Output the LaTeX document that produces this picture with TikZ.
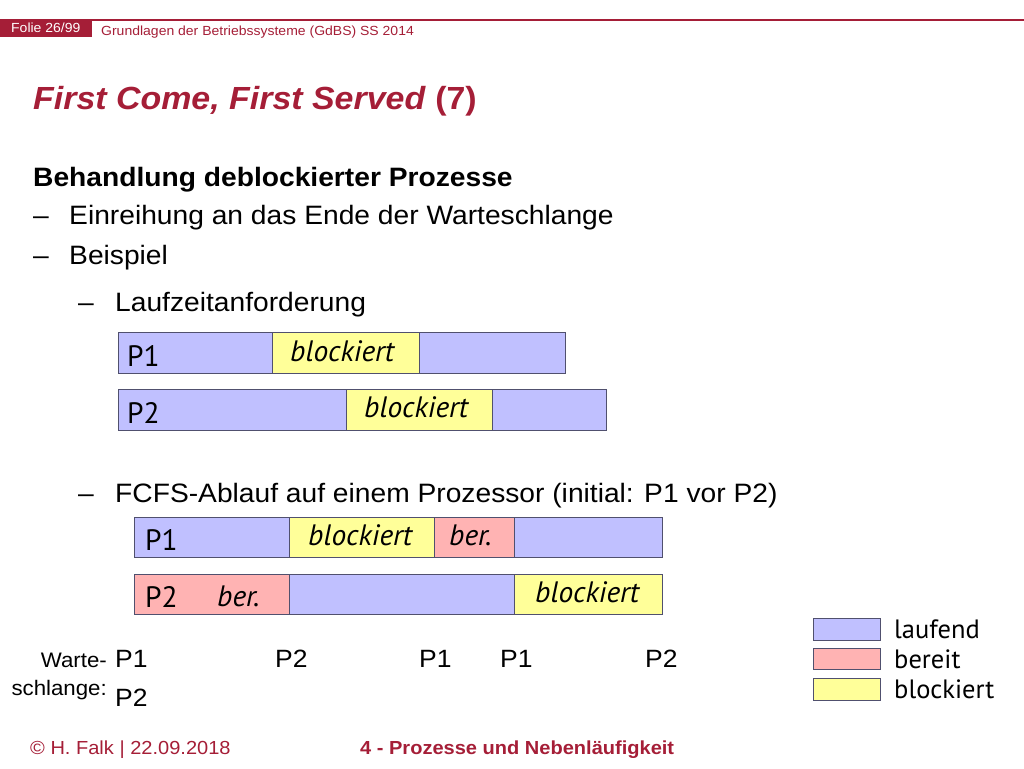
\documentclass[tikz,border=0pt]{standalone}
\usepackage{fontspec}
\setmainfont{Liberation Sans}[FakeStretch=1.06]
\newfontfamily\barfont{PT Sans}
\definecolor{folienrot}{RGB}{165,30,55}
\definecolor{laufblau}{RGB}{192,192,255}
\definecolor{bereitrot}{RGB}{255,179,179}
\definecolor{blockgelb}{RGB}{255,255,153}
\definecolor{rand}{RGB}{80,80,110}
\begin{document}
\begin{tikzpicture}[x=1pt,y=-1pt,
    lauf/.style = {fill=laufblau,draw=rand,line width=1pt},
    ber/.style = {fill=bereitrot,draw=rand,line width=1pt},
    block/.style = {fill=blockgelb,draw=rand,line width=1pt},
    txt/.style = {anchor=base west,inner sep=0pt,font=\fontsize{26.6}{30}\selectfont},
    bar/.style = {anchor=base west,inner sep=0pt,font=\barfont\fontsize{29.5}{32}\selectfont},
    bari/.style = {anchor=base west,inner sep=0pt,font=\barfont\itshape\fontsize{29.5}{32}\selectfont}]
    \useasboundingbox (0,0) rectangle (1024,768);

    % Kopfzeile
    \draw[folienrot,line width=1.3pt] (0,20) -- (1024,20);
    \fill[folienrot] (0,20) rectangle (92,37);
    \node[anchor=base west,inner sep=0pt,white,font=\fontsize{13.2}{15}\selectfont] (folie) at (11,33) {Folie 26/99};
    \node[anchor=base west,inner sep=0pt,folienrot,font=\fontsize{13.2}{15}\selectfont] (kopf) at (101,36) {Grundlagen der Betriebssysteme (GdBS) SS 2014};

    % Titel
    \node[txt,folienrot,font=\bfseries\fontsize{32}{36}\selectfont] (titel) at (33,109) {\textit{First Come, First Served} (7)};

    % Text
    \node[txt,font=\bfseries\fontsize{26.6}{30}\selectfont] (behandlung) at (33,186) {Behandlung deblockierter Prozesse};
    \node[txt] (strich1) at (33,224) {--};
    \node[txt] (einreihung) at (69,224) {Einreihung an das Ende der Warteschlange};
    \node[txt] (strich2) at (33,264) {--};
    \node[txt] (beispiel) at (69,264) {Beispiel};
    \node[txt] (strich3) at (78,311) {--};
    \node[txt] (laufzeit) at (115,311) {Laufzeitanforderung};
    \node[txt] (strich4) at (78,502) {--};
    \node[txt] (ablauf) at (115,502) {FCFS-Ablauf auf einem Prozessor (initial: P1 vor P2)};

    % Laufzeitanforderung P1
    \draw[lauf] (118,332) rectangle (272,373);
    \draw[block] (272,332) rectangle (419,373);
    \draw[lauf] (419,332) rectangle (565,373);
    \node[bar] (lzp1) at (127,366) {P1};
    \node[bari] (lzp1b) at (290,361) {blockiert};

    % Laufzeitanforderung P2
    \draw[lauf] (118,389) rectangle (346,430);
    \draw[block] (346,389) rectangle (492,430);
    \draw[lauf] (492,389) rectangle (606,430);
    \node[bar] (lzp2) at (127,423) {P2};
    \node[bari] (lzp2b) at (364,417) {blockiert};

    % Ablauf P1
    \draw[lauf] (134,517) rectangle (289,557);
    \draw[block] (289,517) rectangle (434,557);
    \draw[ber] (434,517) rectangle (514,557);
    \draw[lauf] (514,517) rectangle (662,557);
    \node[bar] (abp1) at (145,550) {P1};
    \node[bari] (abp1b) at (308,545) {blockiert};
    \node[bari] (abp1r) at (449,545) {ber.};

    % Ablauf P2
    \draw[ber] (134,574) rectangle (289,614);
    \draw[lauf] (289,574) rectangle (514,614);
    \draw[block] (514,574) rectangle (662,614);
    \node[bar] (abp2) at (145,607) {P2};
    \node[bari] (abp2r) at (217,606) {ber.};
    \node[bari] (abp2b) at (535,602) {blockiert};

    % Legende
    \draw[lauf] (813,618) rectangle (880,640);
    \draw[ber] (813,648) rectangle (880,669);
    \draw[block] (813,678) rectangle (880,700);
    \node[bar,font=\barfont\fontsize{26.5}{28}\selectfont] (laufend) at (894,638) {laufend};
    \node[bar,font=\barfont\fontsize{26.5}{28}\selectfont] (bereit) at (894,668) {bereit};
    \node[bar,font=\barfont\fontsize{26.5}{28}\selectfont] (blockiert) at (894,698) {blockiert};

    % Warteschlange
    \node[anchor=base east,inner sep=0pt,font=\fontsize{21}{24}\selectfont] (warte) at (107,667) {Warte-};
    \node[anchor=base east,inner sep=0pt,font=\fontsize{21}{24}\selectfont] (schlange) at (107,695) {schlange:};
    \node[txt,font=\fontsize{25}{28}\selectfont] (w1) at (115,667) {P1};
    \node[txt,font=\fontsize{25}{28}\selectfont] (w2) at (115,706) {P2};
    \node[txt,font=\fontsize{25}{28}\selectfont] (w3) at (275,667) {P2};
    \node[txt,font=\fontsize{25}{28}\selectfont] (w4) at (419,667) {P1};
    \node[txt,font=\fontsize{25}{28}\selectfont] (w5) at (500,667) {P1};
    \node[txt,font=\fontsize{25}{28}\selectfont] (w6) at (645,667) {P2};

    % Fusszeile
    \node[txt,folienrot,font=\fontsize{18.9}{22}\selectfont] (autor) at (30,754) {\textcopyright{} H. Falk | 22.09.2018};
    \node[txt,folienrot,font=\bfseries\fontsize{18.9}{22}\selectfont] (kapitel) at (360,754) {4 - Prozesse und Nebenläufigkeit};
\end{tikzpicture}
\end{document}
